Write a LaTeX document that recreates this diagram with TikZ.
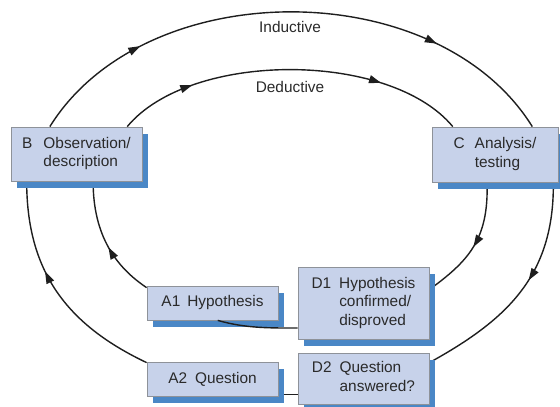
\documentclass[tikz,border=0pt]{standalone}
\usepackage{fontspec}
\setmainfont{Liberation Sans}
\usetikzlibrary{arrows.meta,shadows,backgrounds,calc,decorations.markings}
\definecolor{boxfill}{HTML}{C7D2EA}
\definecolor{boxdraw}{HTML}{8E9299}
\definecolor{shadowblue}{HTML}{4A87C6}
\definecolor{txt}{HTML}{2A2A2A}
\definecolor{ln}{HTML}{1E1E1E}
\tikzset{
  stagebox/.style={draw=boxdraw, line width=0.8pt, fill=boxfill, inner sep=0pt, text=txt,
    general shadow={fill=shadowblue, shadow xshift=5.5pt, shadow yshift=-6.5pt},
    font=\fontsize{15.4}{18.5}\selectfont},
  flow/.style={draw=ln, line width=1.4pt},
  tipat/.style={postaction={decorate}, decoration={markings,
    mark=at position #1 with {\arrow{Triangle[length=12pt,width=8pt]}}}},
  tiptwo/.style 2 args={postaction={decorate}, decoration={markings,
    mark=at position #1 with {\arrow{Triangle[length=12pt,width=8pt]}},
    mark=at position #2 with {\arrow{Triangle[length=12pt,width=8pt]}}}},
  lbl/.style={text=txt, font=\fontsize{15.4}{18}\selectfont}
}
\begin{document}
\begin{tikzpicture}[x=1pt,y=-1pt]
\useasboundingbox (0,0) rectangle (560,407);
% boxes
\node[stagebox, minimum width=131pt, minimum height=54pt] (B) at (76.5,154)
  {\begin{tabular}{@{}l@{\hspace{11pt}}l@{}}B & Observation/\\ & description\end{tabular}};
\node[stagebox, minimum width=126pt, minimum height=55pt] (C) at (495,154.5)
  {\begin{tabular}{@{}l@{\hspace{10pt}}l@{}}C & Analysis/\\ & testing\end{tabular}};
\node[stagebox, minimum width=131pt, minimum height=34pt] (A1) at (212.5,303)
  {A1\hspace{7pt}Hypothesis};
\node[stagebox, minimum width=131pt, minimum height=72pt] (D1) at (363.5,303)
  {\begin{tabular}{@{}l@{\hspace{8pt}}l@{}}D1 & Hypothesis\\ & confirmed/\\ & disproved\end{tabular}};
\node[stagebox, minimum width=131pt, minimum height=34pt] (A2) at (212.5,379)
  {A2\hspace{8pt}Question};
\node[stagebox, minimum width=131pt, minimum height=51pt] (D2) at (363.5,378.5)
  {\begin{tabular}{@{}l@{\hspace{8pt}}l@{}}D2 & Question\\ & answered?\end{tabular}};
% labels
\node[lbl] (ind) at (290,27) {Inductive};
\node[lbl] (ded) at (290,87) {Deductive};
% connectors
\begin{scope}[on background layer]
\draw[flow, tiptwo={0.22}{0.77}] ($(B.north west)!0.298!(B.north east)$)
  .. controls +(95,-153) and +(-95,-153) .. ($(C.north west)!0.794!(C.north east)$);
\draw[flow, tiptwo={0.22}{0.76}] ($(B.north west)!0.885!(B.north east)$)
  .. controls +(63,-76) and +(-63,-76) .. ($(C.north west)!0.167!(C.north east)$);
\draw[flow, tipat=0.6] ($(A2.north west)+(0,1)$)
  .. controls +(-80,-38) and +(0,90) .. ($(B.south west)!0.122!(B.south east)$);
\draw[flow, tipat=0.45] ($(A1.north west)+(0,2)$)
  .. controls +(-30,-20) and +(0,55) .. ($(B.south west)!0.626!(B.south east)$);
\draw[flow, tipat=0.52] ($(C.south west)!0.437!(C.south east)$)
  .. controls +(2,58) and +(38,-28) .. ($(D1.north east)+(0,23)$);
\draw[flow, tipat=0.44] ($(C.south west)!0.96!(C.south east)$)
  .. controls +(1,93) and +(78,-43) .. ($(D2.north east)+(0,10)$);
\draw[flow] ($(A2.south east)+(0,-2)$) -- ($(D2.south west)+(0,-10)$);
\end{scope}
\draw[flow] ($(A1.south west)!0.54!(A1.south east)$)
  .. controls +(28,8) and +(-28,0) .. ($(D1.west)+(0,25)$);
\end{tikzpicture}
\end{document}
